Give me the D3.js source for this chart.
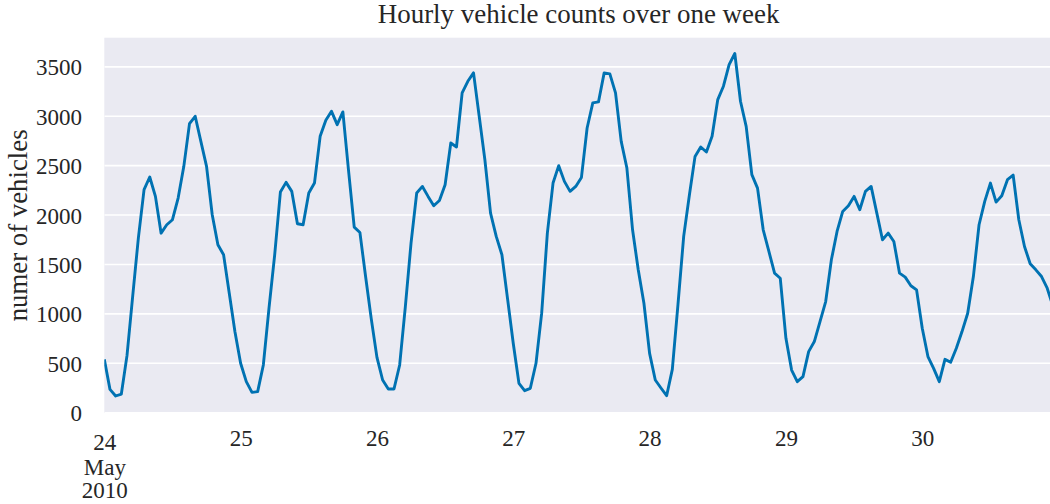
<!DOCTYPE html>
<html>
<head>
<meta charset="utf-8">
<script src="https://cdn.jsdelivr.net/npm/d3@7"></script>
<style>
  html, body { margin: 0; padding: 0; background: #ffffff; }
  svg { display: block; }
  text { font-family: "Liberation Serif", "DejaVu Serif", serif; fill: #262626; }
</style>
</head>
<body>
<svg id="chart" width="1050" height="504"></svg>
<script>
// ---- data ----
const startDate = "2010-05-24T00:00:00";
const counts = [
  540, 236, 169, 189, 580, 1180, 1770, 2257, 2385, 2189, 1817, 1902, 1953, 2172, 2493, 2925, 3000, 2746, 2493, 2003, 1699, 1598, 1209, 820,
  500, 314, 206, 213, 483, 1060, 1600, 2233, 2331, 2240, 1912, 1902, 2223, 2324, 2797, 2959, 3050, 2915, 3044, 2450, 1878, 1824, 1378, 950,
  560, 331, 240, 240, 483, 1074, 1716, 2223, 2290, 2189, 2094, 2148, 2307, 2729, 2689, 3236, 3354, 3439, 3000, 2560, 2020, 1784, 1598, 1150,
  700, 297, 223, 247, 500, 1007, 1817, 2324, 2500, 2341, 2240, 2290, 2381, 2881, 3135, 3145, 3439, 3429, 3236, 2746, 2476, 1851, 1446, 1108,
  600, 331, 250, 172, 439, 1100, 1784, 2200, 2594, 2689, 2638, 2797, 3169, 3304, 3523, 3635, 3152, 2898, 2409, 2273, 1851, 1632, 1412, 1361,
  753, 432, 314, 365, 618, 720, 922, 1125, 1547, 1834, 2037, 2094, 2189, 2054, 2240, 2290, 2020, 1750, 1817, 1733, 1412, 1372, 1285, 1243,
  855, 568, 449, 314, 540, 510, 652, 821, 1007, 1378, 1902, 2138, 2324, 2131, 2195, 2358, 2405, 1953, 1682, 1507, 1446, 1378, 1260, 1080
];
const yTicks = [0, 500, 1000, 1500, 2000, 2500, 3000, 3500];
const dayLabels = ["24", "25", "26", "27", "28", "29", "30"];
const firstDayExtra = ["May", "2010"];
const titleText = "Hourly vehicle counts over one week";
const yLabelText = "numer of vehicles";

// ---- layout ----
const svg = d3.select("#chart");
const P = { left: 104.3, right: 1052.9, top: 37.7, bottom: 413 };

const t0 = new Date(startDate);
const series = counts.map((v, i) => ({ t: d3.timeHour.offset(t0, i), v }));

const x = d3.scaleTime()
  .domain([series[0].t, series[series.length - 1].t])
  .range([P.left, P.right]);
const y = d3.scaleLinear().domain([-3, 3795]).range([P.bottom, P.top]);

// background
svg.append("rect")
  .attr("x", P.left).attr("y", P.top)
  .attr("width", P.right - P.left).attr("height", P.bottom - P.top)
  .attr("fill", "#EAEAF2");

svg.append("clipPath").attr("id", "clip")
  .append("rect")
  .attr("x", P.left).attr("y", P.top)
  .attr("width", P.right - P.left).attr("height", P.bottom - P.top);

// horizontal grid
svg.append("g").attr("clip-path", "url(#clip)")
  .selectAll("line").data(yTicks).join("line")
  .attr("x1", P.left).attr("x2", P.right)
  .attr("y1", d => y(d)).attr("y2", d => y(d))
  .attr("stroke", "#ffffff").attr("stroke-width", 1.6);

// y axis (labels only)
const yAxis = d3.axisLeft(y).tickValues(yTicks).tickSize(0).tickPadding(0)
  .tickFormat(d3.format("d"));
const gy = svg.append("g").attr("transform", `translate(82,0)`).call(yAxis);
gy.select(".domain").remove();
gy.selectAll("text")
  .attr("font-size", 23)
  .attr("font-family", "Liberation Serif, DejaVu Serif, serif")
  .attr("fill", "#262626")
  .attr("dy", "0.35em");

// x axis labels
const dayTicks = d3.timeDay.range(t0, d3.timeHour.offset(t0, counts.length));
const xAxis = d3.axisBottom(x).tickValues(dayTicks).tickSize(0).tickPadding(0)
  .tickFormat((d, i) => dayLabels[i]);
const gx = svg.append("g").call(xAxis);
gx.select(".domain").remove();
gx.selectAll("text")
  .attr("font-size", 23)
  .attr("font-family", "Liberation Serif, DejaVu Serif, serif")
  .attr("fill", "#262626")
  .attr("dy", null)
  .attr("y", (d, i) => i === 0 ? 450 : 445.5);
gx.selectAll(".tick").filter((d, i) => i === 0).each(function () {
  const g = d3.select(this);
  firstDayExtra.forEach((s, k) => {
    g.append("text")
      .attr("text-anchor", "middle")
      .attr("y", k === 0 ? 474.5 : 498)
      .attr("font-size", 23)
      .attr("fill", "#262626")
      .text(s);
  });
});

// line
svg.append("path")
  .datum(series)
  .attr("clip-path", "url(#clip)")
  .attr("fill", "none")
  .attr("stroke", "#0072B2")
  .attr("stroke-width", 2.9)
  .attr("stroke-linejoin", "round")
  .attr("d", d3.line().x(d => x(d.t)).y(d => y(d.v)));

// title
const title = svg.append("text")
  .attr("x", (P.left + P.right) / 2).attr("y", 23.3)
  .attr("text-anchor", "middle")
  .attr("font-size", 25)
  .text(titleText);
let tw = title.node().getComputedTextLength();
title.attr("font-size", 25 * 402 / tw);

// y label
const ylab = svg.append("text")
  .attr("transform", `translate(27,${(P.top + P.bottom) / 2}) rotate(-90)`)
  .attr("text-anchor", "middle")
  .attr("font-size", 23)
  .text(yLabelText);
let yw = ylab.node().getComputedTextLength();
ylab.attr("font-size", 23 * 192 / yw);
</script>
</body>
</html>
